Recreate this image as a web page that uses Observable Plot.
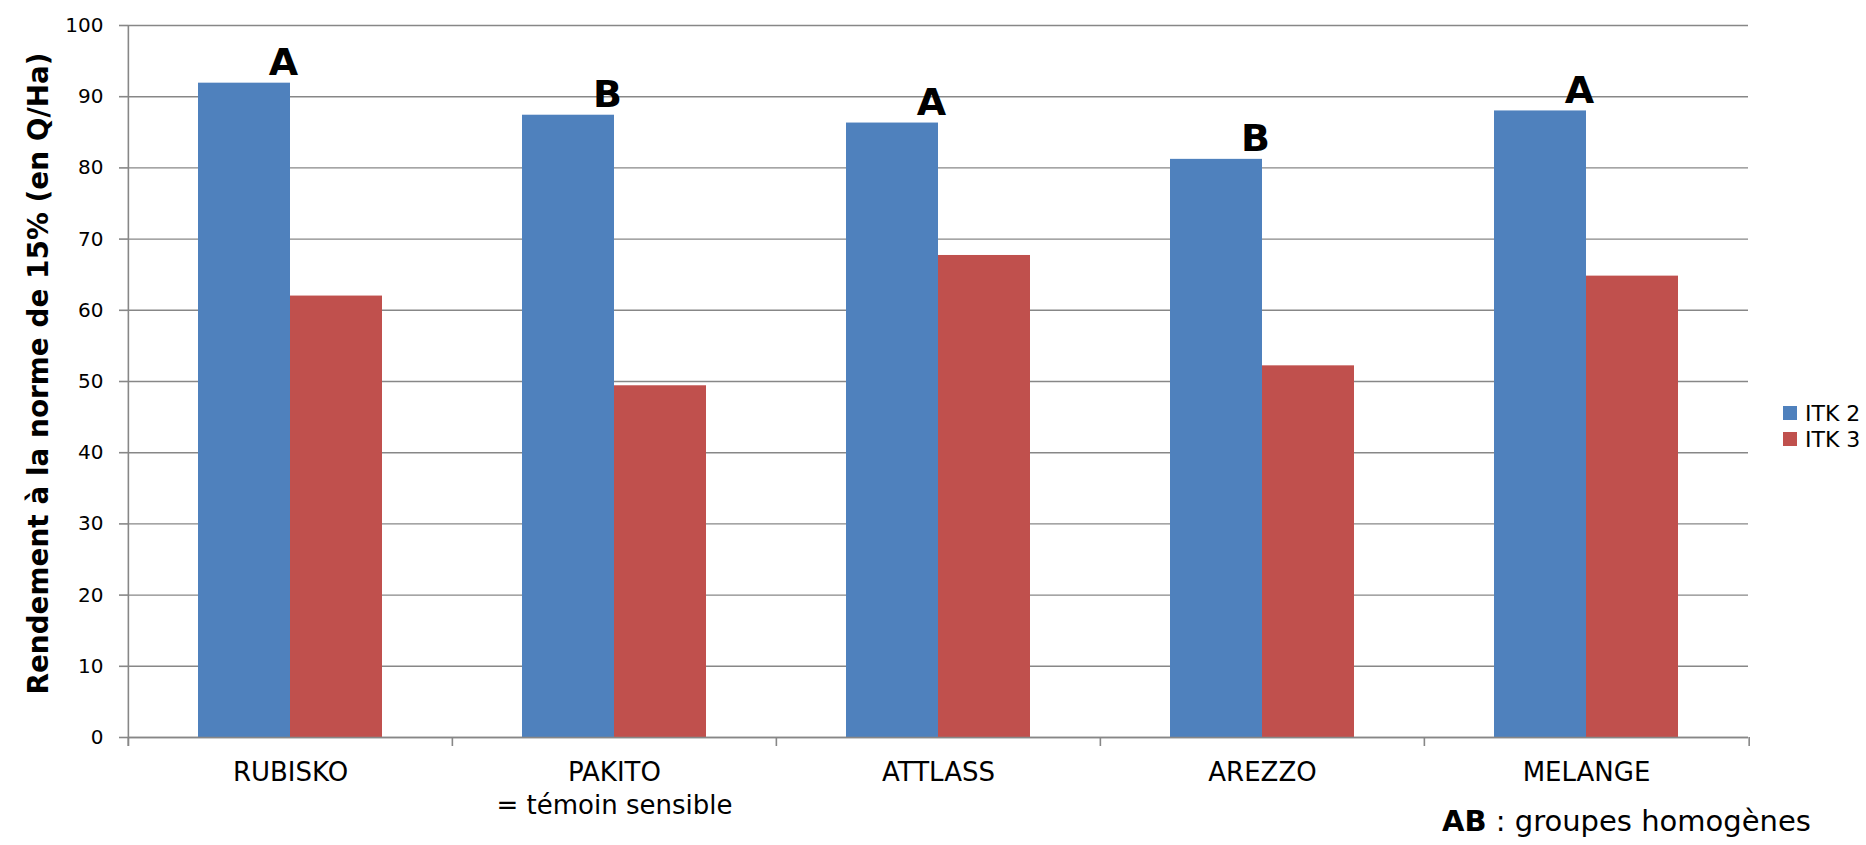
<!DOCTYPE html>
<html>
<head>
<meta charset="utf-8">
<script src="https://cdn.jsdelivr.net/npm/d3@7"></script>
<script src="https://cdn.jsdelivr.net/npm/@observablehq/plot@0.6"></script>
<style>
  body { margin: 0; background: #fff; font-family: "DejaVu Sans", Verdana, sans-serif; }
  #wrap { position: relative; width: 1866px; height: 845px; overflow: hidden; }
  #legend { position: absolute; left: 1783px; top: 400px; font-size: 22px; color: #000; white-space: nowrap; }
  #legend .item { display: flex; align-items: center; height: 26px; white-space: nowrap; }
  #legend .sw { width: 14px; height: 14px; margin-right: 8px; flex: none; }
  #note { position: absolute; left: 1442px; top: 804px; font-size: 29px; color: #000; white-space: nowrap; }
</style>
</head>
<body>
<div id="wrap"></div>
<script>
// ---- data ----
const categories = ["RUBISKO", "PAKITO", "ATTLASS", "AREZZO", "MELANGE"];
const categoryLabels = ["RUBISKO", "PAKITO\n= témoin sensible", "ATTLASS", "AREZZO", "MELANGE"];
const seriesNames = ["ITK 2", "ITK 3"];
const itk2 = [91.9, 87.4, 86.3, 81.2, 88.0];
const itk3 = [62.0, 49.4, 67.7, 52.2, 64.8];
const groups = ["A", "B", "A", "B", "A"];
const yTicks = [0, 10, 20, 30, 40, 50, 60, 70, 80, 90, 100];
const seriesColors = ["#4F81BD", "#C0504D"];
const yTitle = "Rendement à la norme de 15% (en Q/Ha)";
const noteBold = "AB";
const noteText = " : groupes homogènes";

// ---- table built from arrays ----
const rows = [];
categories.forEach((c, i) => {
  rows.push({category: c, series: seriesNames[0], value: itk2[i], group: groups[i]});
  rows.push({category: c, series: seriesNames[1], value: itk3[i], group: null});
});
const labelRows = rows.filter(r => r.series === seriesNames[0]);

// ---- layout ----
const W = 1866, H = 845, ML = 126, MR = 116, MT = 25, MB = 108;
const facetW = (W - ML - MR) / categories.length;
const padOuter = 0.755;
const step = facetW / (2 + 2 * padOuter);
const toFacetLeft = -(padOuter * step + step / 2);
const toFacetRight = facetW + toFacetLeft;
const grey = "#878787";

const chart = Plot.plot({
  width: W,
  height: H,
  marginLeft: ML,
  marginRight: MR,
  marginTop: MT,
  marginBottom: MB,
  style: {fontFamily: "'DejaVu Sans', Verdana, sans-serif", background: "#fff", color: "#000"},
  fx: {domain: categories, paddingInner: 0, paddingOuter: 0, axis: null, label: null},
  x: {domain: seriesNames, paddingInner: 0, paddingOuter: padOuter, axis: null},
  y: {domain: [0, 100], axis: null},
  color: {domain: seriesNames, range: seriesColors},
  marks: [
    Plot.gridY(yTicks, {stroke: grey, strokeOpacity: 1, strokeWidth: 1.4}),
    Plot.barY(rows, {fx: "category", x: "series", y: "value", fill: "series"}),
    Plot.ruleY([0], {stroke: grey, strokeWidth: 1.6}),
    // boundary ticks below the category axis
    Plot.ruleX(categories, {fx: d => d, x: () => seriesNames[0], dx: toFacetLeft, stroke: grey, strokeWidth: 1.6, insetTop: H - MT - MB, insetBottom: -9}),
    Plot.ruleX([categories[categories.length - 1]], {fx: d => d, x: () => seriesNames[0], dx: toFacetRight, stroke: grey, strokeWidth: 1.6, insetTop: H - MT - MB, insetBottom: -9}),
    // value axis line
    Plot.ruleX([categories[0]], {fx: d => d, x: () => seriesNames[0], dx: toFacetLeft, stroke: grey, strokeWidth: 1.6, insetBottom: -9}),
    Plot.axisY({
      ticks: yTicks, tickSize: 9, tickPadding: 16, fontSize: 20, stroke: grey, strokeWidth: 1.6, strokeOpacity: 1,
      label: yTitle, labelAnchor: "center", labelOffset: 100, labelArrow: "none"
    }),
    Plot.axisFx({
      anchor: "bottom", tickSize: 0, tickPadding: 21, fontSize: 26, lineHeight: 1.24,
      tickFormat: d => categoryLabels[categories.indexOf(d)], label: null
    }),
    Plot.text(labelRows, {
      fx: "category", x: "series", y: "value", text: "group",
      dx: 39, dy: -8, lineAnchor: "bottom", fontSize: 38, fontWeight: "bold", fill: "#000"
    })
  ]
});

// style the y title
const wrap = document.getElementById("wrap");
wrap.appendChild(chart);
chart.querySelectorAll("text").forEach(t => {
  if (t.textContent === yTitle) {
    t.setAttribute("font-size", 27.9);
    t.setAttribute("font-weight", "bold");
    t.setAttribute("dx", 8);
  }
});

// legend
const legend = document.createElement("div");
legend.id = "legend";
seriesNames.forEach((s, i) => {
  const item = document.createElement("div");
  item.className = "item";
  const sw = document.createElement("span");
  sw.className = "sw";
  sw.style.background = seriesColors[i];
  const lab = document.createElement("span");
  lab.textContent = s;
  item.appendChild(sw); item.appendChild(lab);
  legend.appendChild(item);
});
wrap.appendChild(legend);

// footnote
const note = document.createElement("div");
note.id = "note";
const b = document.createElement("b");
b.textContent = noteBold;
note.appendChild(b);
note.appendChild(document.createTextNode(noteText));
wrap.appendChild(note);
</script>
</body>
</html>
